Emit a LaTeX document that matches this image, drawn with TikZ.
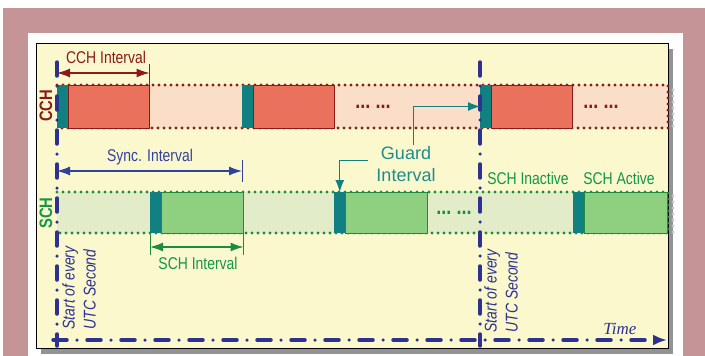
\documentclass[tikz,border=0pt]{standalone}
\usepackage{fontspec}
\setmainfont[FakeStretch=0.82]{Liberation Sans}
\setsansfont[FakeStretch=0.82]{Liberation Sans}
\newfontfamily\guardfont{Liberation Sans}
\newfontfamily\timefont{Liberation Serif}
\usepackage{xcolor}
\usetikzlibrary{arrows.meta,positioning}

\definecolor{framepink}{RGB}{196,148,150}
\definecolor{panel}{RGB}{251,248,206}
\definecolor{cchbg}{RGB}{250,222,200}
\definecolor{cchred}{RGB}{234,114,92}
\definecolor{cchdark}{RGB}{140,26,26}
\definecolor{schbg}{RGB}{227,236,200}
\definecolor{schfill}{RGB}{142,208,128}
\definecolor{schdark}{RGB}{30,140,60}
\definecolor{schtext}{RGB}{20,150,70}
\definecolor{guardteal}{RGB}{16,128,128}
\definecolor{guardtext}{RGB}{30,140,140}
\definecolor{utcblue}{RGB}{45,50,145}
\definecolor{syncblue}{RGB}{50,65,160}

\begin{document}
\begin{tikzpicture}[x=1pt,y=-1pt]

        \tikzstyle{guard}=[fill=guardteal,minimum width=11.5pt,minimum height=43pt,inner sep=0pt,outer sep=0pt]
        \tikzstyle{cchslot}=[fill=cchred,draw=cchdark,line width=0.7pt,minimum width=81pt,minimum height=43pt,inner sep=0pt,outer sep=0pt]
        \tikzstyle{schslot}=[fill=schfill,draw=schdark,line width=0.7pt,minimum width=82pt,minimum height=41pt,inner sep=0pt,outer sep=0pt]
        \tikzstyle{dotborder}=[line width=3.3pt,line cap=round,dash pattern=on 0pt off 6pt]
        \tikzstyle{utcline}=[draw=utcblue,line width=3.5pt,line cap=round,dash pattern=on 14pt off 10pt on 0pt off 10pt]
        \tikzstyle{dimarrow}=[line width=1.2pt,{Latex[length=13pt,width=9pt]}-{Latex[length=13pt,width=9pt]}]
        \tikzstyle{guardarrow}=[draw=guardteal,line width=1pt,-{Latex[length=12pt,width=9pt]}]
        \tikzstyle{lbl}=[font=\fontsize{17}{20}\selectfont,inner sep=1pt]
        \tikzstyle{more}=[font=\bfseries\fontsize{22}{22}\selectfont,inner sep=0pt]
        \tikzstyle{utclbl}=[rotate=90,align=left,text=utcblue,inner sep=0pt,font=\itshape\fontsize{17}{21}\selectfont]

        \useasboundingbox (0,0) rectangle (705,356);

        %% Frame and panel
        \fill[white] (0,0) rectangle (705,356);
        \fill[framepink] (3,8) rectangle (705,356);
        \fill[white] (28,33) rectangle (683,356);
        \fill[gray!85] (41,49) rectangle (673,354);
        \filldraw[fill=panel,draw=black,line width=0.8pt] (36,43) rectangle (668,348);

        %% CCH channel
        \fill[cchbg] (57,85) rectangle (668,128);
        \draw[dotborder,draw=gray!45] (673,90) -- (673,132);
        \draw[dotborder,draw=cchdark] (57,85) -- (668,85) -- (668,128) -- (57,128);
        \node[guard,anchor=north west] (g1) at (57,85) {};
        \node[cchslot,right=0pt of g1] (c1) {};
        \node[guard,anchor=north west] (g2) at (242,85) {};
        \node[cchslot,right=0pt of g2] (c2) {};
        \node[guard,anchor=north west] (g3) at (480,85) {};
        \node[cchslot,right=0pt of g3] (c3) {};
        \node[more,text=cchdark] (cchmore1) at (373,107) {...~...};
        \node[more,text=cchdark] (cchmore2) at (601,107) {...~...};
        \node[rotate=90,text=cchdark,font=\bfseries\fontsize{18}{20}\selectfont] (cchname) at (46,106) {CCH};

        %% SCH channel
        \fill[schbg] (57,192) rectangle (668,233);
        \draw[dotborder,draw=gray!45] (673,196) -- (673,237);
        \draw[dotborder,draw=schdark] (57,192) -- (668,192) -- (668,233) -- (57,233);
        \node[guard,minimum height=41pt,anchor=north west] (h1) at (150,192) {};
        \node[schslot,right=0pt of h1] (s1) {};
        \node[guard,minimum height=41pt,anchor=north west] (h2) at (334,192) {};
        \node[schslot,right=0pt of h2] (s2) {};
        \node[guard,minimum height=41pt,anchor=north west] (h3) at (573,192) {};
        \node[schslot,minimum width=83pt,right=0pt of h3] (s3) {};
        \node[more,text=schdark] (schmore) at (454,213) {...~...};
        \node[rotate=90,text=schtext,font=\bfseries\fontsize{18}{20}\selectfont] (schname) at (46,213) {SCH};

        %% Start of every UTC second and time axis
        \draw[utcline] (57,62) -- (57,346);
        \draw[utcline] (480,62) -- (480,346);
        \draw[utcline,-{Latex[length=14pt,width=11pt]}] (53,340) -- (667,340);
        \node[utclbl] (utc1) at (79,288) {Start of every\\UTC Second};
        \node[utclbl] (utc2) at (501,291) {Start of every\\UTC Second};
        \node[text=utcblue,font=\timefont\itshape\fontsize{17}{20}\selectfont] (time) at (620,329) {Time};

        %% Intervals
        \coordinate (cchdim) at (57,73);
        \draw[cchdark,line width=0.8pt] (c1.north east) -- ++(0,-21);
        \draw[dimarrow,cchdark] (cchdim) -- (cchdim -| c1.east);
        \node[lbl,text=cchdark] (cchint) at (106,57) {CCH Interval};

        \coordinate (syncdim) at (57,171);
        \draw[syncblue,line width=0.8pt] (g2.north west |- 0,160) -- (g2.north west |- 0,182);
        \draw[dimarrow,syncblue] (syncdim) -- (syncdim -| g2.west);
        \node[lbl,text=syncblue] (syncint) at (150,157) {Sync. Interval};

        \draw[schdark,line width=0.8pt] (h1.south west) -- ++(0,22);
        \draw[schdark,line width=0.8pt] (s1.south east) -- ++(0,22);
        \draw[dimarrow,schdark] ([yshift=-14pt]h1.south west) -- ([yshift=-14pt]s1.south east);
        \node[lbl,text=schtext] (schint) at (198,263) {SCH Interval};

        \node[lbl,text=schtext] (inactive) at (528,178) {SCH Inactive};
        \node[lbl,text=schtext] (active) at (619,178) {SCH Active};

        %% Guard interval
        \node[align=center,text=guardtext,inner sep=1pt,font=\guardfont\fontsize{18}{22}\selectfont] (guard) at (406,164) {Guard\\Interval};
        \coordinate (guardtail) at (368,160);
        \draw[guardarrow] ([xshift=7pt]guard.north) |- (g3.west);
        \draw[guardarrow] (guardtail) -| (h2.north);

    \end{tikzpicture}
\end{document}
